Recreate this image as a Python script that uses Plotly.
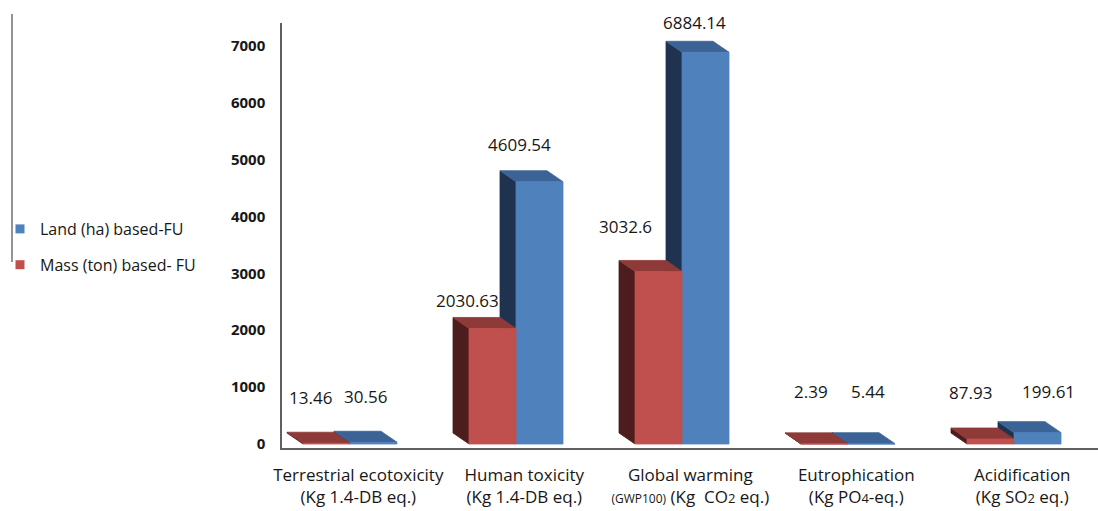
import plotly.graph_objects as go

# ---------------- data ----------------
categories_line1 = ["Terrestrial ecotoxicity", "Human toxicity", "Global warming",
                    "Eutrophication", "Acidification"]
categories_line2 = ["(Kg 1.4-DB eq.)", "(Kg 1.4-DB eq.)",
                    "<span style='font-size:12px'>(GWP100)</span> (Kg  CO<span style='font-size:13px'>2</span> eq.)",
                    "(Kg PO<span style='font-size:13px'>4</span>-eq.)",
                    "(Kg SO<span style='font-size:13px'>2</span> eq.)"]
mass_values = [13.46, 2030.63, 3032.6, 2.39, 87.93]
land_values = [30.56, 4609.54, 6884.14, 5.44, 199.61]
mass_labels = ["13.46", "2030.63", "3032.6", "2.39", "87.93"]
land_labels = ["30.56", "4609.54", "6884.14", "5.44", "199.61"]
y_ticks = [0, 1000, 2000, 3000, 4000, 5000, 6000, 7000]

# ---------------- styling ----------------
W, H = 1098, 511
ML, MR, MT, MB = 282, 0, 23, 63
PX_PER_CAT = 166.0
PX_PER_UNIT = 0.0569
BW = 47 / PX_PER_CAT                # bar width in category units
DX = -16 / PX_PER_CAT               # 3-D depth offset (x)
DY = 11 / PX_PER_UNIT               # 3-D depth offset (y)
X_RANGE = [(ML - 350) / PX_PER_CAT, (W - MR - 350) / PX_PER_CAT]
Y_RANGE = [-(H - MB - 444) / PX_PER_UNIT, (444 - MT) / PX_PER_UNIT]

RED = dict(front="#C0504D", top="#8E3A38", side="#4D1D1D")
BLUE = dict(front="#4F81BD", top="#3B6396", side="#1F3350")

mass_label_shift = [(-16, 46), (-25, 28), (-33, 45), (-14, 52), (-20, 47)]
land_label_shift = [(-8, 46), (-20, 37), (-11, 30), (-4, 52), (11, 41)]

FONT = "Open Sans"
TXT = "#171717"


def face_polys(values, offset, face):
    xs, ys = [], []
    for i, v in enumerate(values):
        x0 = i + offset
        x1 = x0 + BW
        if face == "front":
            pts = [(x0, 0), (x1, 0), (x1, v), (x0, v)]
        elif face == "side":
            pts = [(x0, 0), (x0, v), (x0 + DX, v + DY), (x0 + DX, DY)]
        else:
            pts = [(x0, v), (x1, v), (x1 + DX, v + DY), (x0 + DX, v + DY)]
        pts.append(pts[0])
        xs += [p[0] for p in pts] + [None]
        ys += [p[1] for p in pts] + [None]
    return xs, ys


fig = go.Figure()

# draw blue (Land) first so the red (Mass) bar sits in front of it
for values, offset, colors in [(land_values, 0.0, BLUE), (mass_values, -BW, RED)]:
    for face in ["side", "top", "front"]:
        xs, ys = face_polys(values, offset, face)
        fig.add_trace(go.Scatter(
            x=xs, y=ys, mode="lines", fill="toself",
            fillcolor=colors[face], line=dict(color=colors[face], width=0.8),
            hoverinfo="skip", showlegend=False))

# legend entries
fig.add_trace(go.Scatter(x=[None], y=[None], mode="markers", name="Land (ha) based-FU",
                         legendgroup="land",
                         marker=dict(symbol="square", size=9, color=BLUE["front"])))
fig.add_trace(go.Scatter(x=[None], y=[None], mode="markers", name="Mass (ton) based- FU",
                         legendgroup="mass",
                         marker=dict(symbol="square", size=9, color=RED["front"])))

# data labels
annotations = []
for i, (v, t) in enumerate(zip(mass_values, mass_labels)):
    dx, dy = mass_label_shift[i]
    annotations.append(dict(x=i - BW / 2, y=v, text=t, showarrow=False,
                            xshift=dx, yshift=dy, font=dict(family=FONT, size=17, color=TXT)))
for i, (v, t) in enumerate(zip(land_values, land_labels)):
    dx, dy = land_label_shift[i]
    annotations.append(dict(x=i + BW / 2, y=v, text=t, showarrow=False,
                            xshift=dx, yshift=dy, font=dict(family=FONT, size=17, color=TXT)))

plot_w = W - ML - MR
plot_h = H - MT - MB
shapes = [dict(type="line", xref="paper", yref="paper",
               x0=(12 - ML) / plot_w, x1=(12 - ML) / plot_w,
               y0=(H - MB - 14) / plot_h, y1=(H - MB - 262) / plot_h,
               line=dict(color="#707070", width=1.5))]

fig.update_layout(
    width=W, height=H,
    margin=dict(l=ML, r=MR, t=MT, b=MB),
    paper_bgcolor="white", plot_bgcolor="white",
    font=dict(family=FONT, color=TXT),
    showlegend=True,
    legend=dict(xref="container", yref="container", x=0.0, y=1 - 212 / H,
                xanchor="left", yanchor="top", traceorder="grouped",
                tracegroupgap=12, font=dict(family=FONT, size=16, color=TXT),
                bgcolor="rgba(0,0,0,0)"),
    xaxis=dict(range=X_RANGE, showgrid=False, zeroline=False,
               showline=True, linecolor="#606060", linewidth=1.5,
               tickvals=[i + 0.05 for i in range(len(categories_line1))],
               ticktext=[a + "<br>" + b for a, b in zip(categories_line1, categories_line2)],
               ticks="", ticklabelstandoff=11,
               tickfont=dict(family=FONT, size=17, color=TXT), fixedrange=True),
    yaxis=dict(range=Y_RANGE, showgrid=False, zeroline=False,
               showline=True, linecolor="#606060", linewidth=1.5,
               tickvals=y_ticks, ticks="", ticklabelstandoff=12,
               tickfont=dict(family=FONT, size=15, color=TXT, weight="bold"),
               fixedrange=True),
    annotations=annotations,
    shapes=shapes,
)

fig.write_html("out.html")
